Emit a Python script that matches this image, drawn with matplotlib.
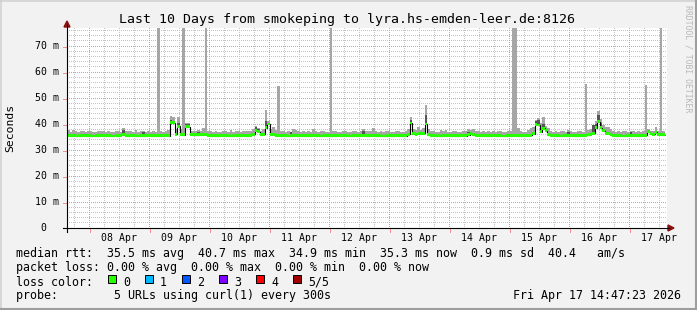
import matplotlib
matplotlib.use('Agg')
import matplotlib.pyplot as plt
import numpy as np
from matplotlib.patches import Polygon, Rectangle
from matplotlib.lines import Line2D

plt.rcParams['font.family'] = ['DejaVu Sans Mono']

# median rtt per hour (ms), 10 days back from Apr 17 14:47
med0 = [35.6, 35.5, 35.5, 35.4, 35.5, 35.5, 35.6, 35.5, 35.5, 35.5, 35.4, 35.5, 35.5, 35.6, 35.5, 35.5, 35.5, 35.5, 35.4, 35.5, 35.5, 35.6, 35.8, 35.5]
med1 = [35.5, 35.6, 35.5, 35.5, 35.4, 35.5, 35.5, 35.5, 35.6, 35.5, 35.5, 35.5, 35.5, 35.5, 35.5, 35.6, 35.5, 40.5, 40.5, 36.0, 39.2, 36.0, 35.9, 39.0]
med2 = [39.0, 36.0, 35.8, 35.8, 35.9, 36.0, 36.1, 36.0, 35.6, 35.5, 35.5, 35.5, 35.5, 35.6, 35.5, 35.5, 35.5, 35.4, 35.5, 35.5, 35.5, 35.5, 35.6, 35.5]
med3 = [35.5, 35.6, 36.0, 37.5, 37.0, 35.8, 36.0, 38.5, 40.0, 36.0, 35.8, 35.6, 35.6, 35.5, 35.5, 35.5, 35.4, 35.5, 35.5, 35.6, 35.5, 35.5, 35.5, 35.5]
med4 = [35.5, 35.5, 35.6, 35.5, 35.5, 35.4, 35.5, 35.5, 35.5, 35.5, 35.5, 35.5, 35.6, 35.5, 35.5, 35.5, 35.5, 35.4, 35.5, 35.5, 35.5, 35.6, 35.7, 35.5]
med5 = [35.5, 35.6, 35.7, 35.5, 35.5, 35.5, 35.4, 35.5, 35.5, 35.5, 35.5, 35.6, 35.5, 35.5, 35.5, 35.5, 36.0, 40.4, 36.3, 36.0, 36.2, 36.2, 36.5, 40.0]
med6 = [36.0, 35.6, 35.5, 35.5, 35.5, 35.4, 35.5, 35.5, 35.6, 35.5, 35.5, 35.5, 35.5, 35.6, 35.5, 35.5, 35.9, 36.3, 35.8, 35.7, 35.6, 35.5, 35.5, 35.5]
med7 = [35.5, 35.5, 35.6, 35.5, 35.5, 35.5, 35.4, 35.5, 35.5, 35.5, 35.6, 35.6, 35.5, 35.5, 35.5, 35.5, 35.6, 35.7, 36.2, 39.8, 39.6, 37.0, 38.3, 37.5]
med8 = [36.0, 35.6, 35.5, 35.5, 35.5, 35.4, 35.5, 35.5, 35.5, 35.6, 35.5, 35.5, 35.5, 35.5, 35.5, 35.7, 35.8, 36.0, 36.5, 38.5, 40.8, 38.5, 37.5, 36.5]
med9 = [36.5, 36.0, 35.6, 35.5, 35.5, 35.5, 35.4, 35.5, 35.5, 35.5, 35.6, 35.5, 35.5, 35.5, 35.6, 35.7, 37.0, 36.3, 36.0, 36.8, 36.0, 36.0, 35.8]

# top of the smoke (max ping) per hour
hi0 = [37.6, 37.0, 37.8, 37.2, 37.0, 37.3, 37.4, 37.0, 37.2, 37.5, 37.1, 37.0, 37.3, 37.4, 37.2, 37.0, 37.4, 37.1, 37.0, 37.3, 37.2, 37.1, 38.6, 37.3]
hi1 = [37.4, 37.2, 37.1, 37.6, 37.0, 37.3, 37.2, 37.1, 37.4, 37.0, 37.2, 37.1, 90.0, 37.2, 37.0, 37.3, 37.8, 43.0, 42.6, 37.9, 42.8, 38.0, 90.0, 40.5]
hi2 = [40.5, 37.4, 37.4, 37.2, 37.6, 37.4, 38.4, 90.0, 37.4, 37.2, 37.0, 37.3, 37.1, 37.0, 37.3, 37.2, 37.1, 37.7, 37.0, 37.3, 37.2, 37.1, 37.4, 37.3]
hi3 = [37.3, 37.4, 37.9, 39.2, 38.6, 37.4, 37.9, 45.4, 41.0, 37.9, 39.0, 37.6, 54.6, 37.4, 37.2, 37.1, 37.3, 37.0, 38.1, 37.6, 37.2, 37.1, 37.3, 37.0]
hi4 = [37.2, 37.1, 37.9, 37.3, 37.0, 37.2, 37.4, 37.1, 37.0, 90.0, 37.2, 37.3, 37.1, 37.0, 37.4, 37.2, 37.1, 37.0, 37.3, 37.2, 37.1, 37.4, 38.2, 37.3]
hi5 = [37.3, 37.4, 38.4, 37.2, 37.1, 37.3, 37.0, 37.2, 37.4, 37.1, 37.0, 37.2, 37.3, 37.1, 37.0, 37.2, 37.9, 42.7, 37.9, 37.6, 38.7, 37.8, 38.4, 47.3]
hi6 = [37.9, 37.2, 37.3, 37.1, 37.0, 37.7, 37.2, 37.7, 37.1, 37.0, 37.3, 37.2, 37.1, 37.0, 37.3, 37.4, 38.1, 37.7, 38.0, 37.4, 37.2, 37.1, 37.3, 37.0]
hi7 = [37.2, 37.1, 37.3, 37.0, 37.2, 37.4, 37.1, 37.0, 37.2, 37.3, 90.0, 90.0, 38.4, 37.2, 37.1, 37.0, 37.6, 38.4, 38.7, 41.5, 42.3, 40.5, 42.7, 39.2]
hi8 = [38.5, 37.3, 37.1, 37.2, 37.0, 37.3, 37.2, 37.1, 37.7, 37.4, 37.1, 37.0, 37.2, 37.3, 37.1, 55.4, 37.6, 38.2, 39.6, 41.0, 45.0, 42.0, 39.7, 38.7]
hi9 = [38.7, 37.9, 37.3, 37.1, 37.2, 37.0, 37.3, 37.2, 37.1, 37.4, 37.2, 37.0, 37.3, 37.1, 37.2, 55.0, 37.9, 37.4, 37.4, 38.7, 37.4, 90.0, 37.4]

# darker inner smoke (hour index, top value)
dark_hours = [22, 30, 41, 44, 47, 48, 52, 75, 76, 79, 80, 89, 118, 137, 143, 160, 187, 188, 190, 200, 210, 211, 212, 213, 225]
dark_tops = [37.8, 36.9, 41.5, 40.5, 40.0, 40.0, 37.0, 39.0, 38.0, 41.0, 40.5, 36.9, 37.2, 41.5, 43.5, 37.0, 41.0, 41.5, 40.0, 36.9, 39.6, 40.0, 43.5, 40.5, 36.9]

day_labels = ['08 Apr', '09 Apr', '10 Apr', '11 Apr', '12 Apr', '13 Apr', '14 Apr', '15 Apr', '16 Apr', '17 Apr']
first_midnight = 8.85  # hours from the left edge of the graph to Apr 08 00:00

loss_labels = ['0', '1', '2', '3', '4', '5/5']
loss_colors = ['#26ff00', '#00b8ff', '#0059ff', '#7e00ff', '#ff0000', '#a10000']

title = 'Last 10 Days from smokeping to lyra.hs-emden-leer.de:8126'
line_rtt = 'median rtt:  35.5 ms avg  40.7 ms max  34.9 ms min  35.3 ms now  0.9 ms sd  40.4   am/s'
line_loss = 'packet loss: 0.00 % avg  0.00 % max  0.00 % min  0.00 % now'
line_probe = 'probe:        5 URLs using curl(1) every 300s'
stamp = 'Fri Apr 17 14:47:23 2026'

W, H = 697, 310
PW, PH = 600, 200   # plot area in pixels
PXH = 2.5           # pixels per hour
PXV = 2.6           # pixels per ms
med = np.array(med0 + med1 + med2 + med3 + med4 + med5 + med6 + med7 + med8 + med9)
hi = np.array(hi0 + hi1 + hi2 + hi3 + hi4 + hi5 + hi6 + hi7 + hi8 + hi9)
edges = np.arange(len(med) + 1)

def fx(x):
    return x / W

def fy(y):
    return 1 - y / H

def hexrgb(c):
    return [int(c[i:i + 2], 16) / 255 for i in (1, 3, 5)]

def row(v):
    return int(PH - PXV * v + 1e-6)

def col(h):
    return int(PXH * h + 1e-6)

fig = plt.figure(figsize=(W / 100, H / 100), dpi=100, facecolor='#f2f2f2')
ax = fig.add_axes([fx(67), fy(228), PW / W, PH / H])
ax.patch.set_visible(False)
ymax = PH / PXV
ax.set_xlim(0, 240)
ax.set_ylim(0, ymax)
for s in ax.spines.values():
    s.set_visible(False)
ax.set_xticks([])
ax.set_yticks([])

# dotted grid on white, placed 1:1 in pixels behind the axes
grid = np.ones((PH, PW, 3))
gray, red = hexrgb('#c4c4c8'), hexrgb('#f09090')
for v in range(2, 77, 2):
    if v % 10:
        grid[row(v), 0::2] = gray
hrs = np.arange(first_midnight - 6, 240, 6)
for k, h in enumerate(hrs):
    if k % 4 != 1:
        grid[0::2, col(h)] = gray
for v in range(10, 80, 10):
    grid[row(v), 0::2] = red
midnights = [first_midnight + 24 * k for k in range(10)]
for h in midnights:
    grid[0::2, col(h)] = red
fig.figimage(grid, xo=67, yo=H - 228, origin='upper', zorder=-1)

# short marks outside the plot at the major lines
for h in midnights:
    xp = 67 + col(h) + 0.5
    fig.add_artist(Line2D([fx(xp), fx(xp)], [fy(229), fy(232)], color=red, lw=0.72, antialiased=False))
for v in range(10, 80, 10):
    yp = 28 + row(v) + 0.5
    fig.add_artist(Line2D([fx(63), fx(66)], [fy(yp), fy(yp)], color=red, lw=0.72, antialiased=False))

for k, h in enumerate(midnights):
    ax.text(h + 12, -3.9, day_labels[k], ha='center', va='center', fontsize=7.1, clip_on=False)
for v in range(0, 80, 10):
    lab = '0  ' if v == 0 else '%d m' % v
    ax.text(-3.2, v, lab, ha='right', va='center', fontsize=7.1)

# smoke + median
ax.stairs(hi, edges, baseline=med, fill=True, color='#a6a6a6', lw=0, zorder=3)
dh = np.array(dark_hours)
ax.bar(dh, np.array(dark_tops) - med[dh], bottom=med[dh], width=1, align='edge', color='#555555', lw=0, zorder=4)
ax.stairs(med, edges, baseline=None, color='black', lw=0.8, zorder=5)
ax.stairs(med + 0.55, edges, baseline=med - 0.55, fill=True, color='#26ff00', lw=0, zorder=6)

# axes with arrows
fig.add_artist(Line2D([fx(63), fx(669)], [fy(228), fy(228)], color='black', lw=0.8))
fig.add_artist(Line2D([fx(67), fx(67)], [fy(232), fy(25)], color='black', lw=0.8))
fig.add_artist(Polygon([[fx(668), fy(225)], [fx(674), fy(228)], [fx(668), fy(231)]], closed=True, color='#8b1010'))
fig.add_artist(Polygon([[fx(64), fy(27)], [fx(67), fy(21)], [fx(70), fy(27)]], closed=True, color='#8b1010'))

# texts
fig.text(fx(347), fy(19), title, ha='center', va='center', fontsize=9.5)
fig.text(fx(10), fy(128), 'Seconds', rotation=90, ha='center', va='center', fontsize=8.2)
fig.text(fx(688), fy(5), 'RRDTOOL / TOBI OETIKER', rotation=270, ha='center', va='top', fontsize=5.9, color='#b8b8b8')

fig.text(fx(16), fy(254), line_rtt, ha='left', va='center', fontsize=8.4)
fig.text(fx(16), fy(268), line_loss, ha='left', va='center', fontsize=8.4)
fig.text(fx(16), fy(282), 'loss color:', ha='left', va='center', fontsize=8.4)
for k in range(len(loss_labels)):
    bx = 108 + 37 * k
    fig.add_artist(Rectangle((fx(bx), fy(283)), 8 / W, 8 / H, facecolor=loss_colors[k], edgecolor='black', lw=0.7))
    fig.text(fx(bx + 15), fy(282), loss_labels[k], ha='left', va='center', fontsize=8.4)
fig.text(fx(16), fy(296), line_probe, ha='left', va='center', fontsize=8.4)
fig.text(fx(681), fy(296), stamp, ha='right', va='center', fontsize=8.4)

# frame shading
fig.add_artist(Line2D([0, 1], [fy(0.7), fy(0.7)], color='#cfcfcf', lw=1.1))
fig.add_artist(Line2D([fx(0.7), fx(0.7)], [0, 1], color='#cfcfcf', lw=1.1))
fig.add_artist(Line2D([0, 1], [fy(309), fy(309)], color='#9e9e9e', lw=1.5))
fig.add_artist(Line2D([fx(696), fx(696)], [0, 1], color='#9e9e9e', lw=1.5))

fig.savefig('out.png', dpi=100, facecolor=fig.get_facecolor())
